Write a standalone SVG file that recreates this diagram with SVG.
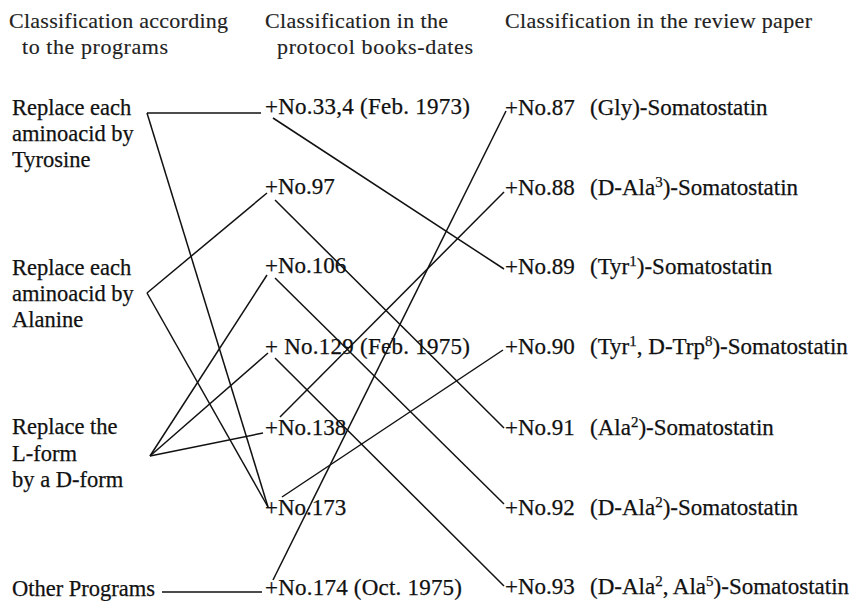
<svg xmlns="http://www.w3.org/2000/svg" width="853" height="601" viewBox="0 0 853 601">
<style>
text{font-family:"Liberation Serif","Times New Roman",serif;fill:#111;font-size:23px;stroke:#111;stroke-width:0.25}
.h{font-size:22px;fill:#222;stroke:#222;stroke-width:0.15}
.l{font-size:22.5px}
.sup{font-size:15px}
#connectors line{stroke:#111;stroke-width:1.5;fill:none}
</style>
<rect width="853" height="601" fill="#fff"/>
<g id="headers">
<text class="h" x="9" y="28" textLength="219">Classification according</text>
<text class="h" x="22" y="54" textLength="146">to the programs</text>
<text class="h" x="265" y="28" textLength="183">Classification in the</text>
<text class="h" x="277" y="54" textLength="196">protocol books-dates</text>
<text class="h" x="505" y="28" textLength="307">Classification in the review paper</text>
</g>
<g id="connectors">
<line x1="147" y1="113" x2="261" y2="113"/>
<line x1="147" y1="113" x2="268" y2="507"/>
<line x1="147" y1="293" x2="267" y2="193"/>
<line x1="147" y1="293" x2="268" y2="507"/>
<line x1="150" y1="456" x2="267" y2="275"/>
<line x1="150" y1="456" x2="268" y2="353"/>
<line x1="150" y1="456" x2="263" y2="433"/>
<line x1="162" y1="592" x2="262" y2="592"/>
<line x1="273" y1="118" x2="504" y2="269"/>
<line x1="275" y1="200" x2="504" y2="428"/>
<line x1="275" y1="278" x2="504" y2="504"/>
<line x1="275" y1="358" x2="504" y2="586"/>
<line x1="280" y1="417" x2="504" y2="192"/>
<line x1="282" y1="497" x2="503" y2="350"/>
<line x1="273" y1="580" x2="506" y2="111"/>
</g>
<g id="prog-tyrosine"><text class="l" x="12" y="115">Replace each</text><text class="l" x="12" y="141">aminoacid by</text><text class="l" x="12" y="167">Tyrosine</text></g>
<g id="prog-alanine"><text class="l" x="12" y="275">Replace each</text><text class="l" x="12" y="301">aminoacid by</text><text class="l" x="12" y="327">Alanine</text></g>
<g id="prog-dform"><text class="l" x="12" y="434">Replace the</text><text class="l" x="12" y="461">L-form</text><text class="l" x="12" y="487">by a D-form</text></g>
<g id="prog-other"><text class="l" x="12" y="596">Other Programs</text></g>
<g id="book-33"><text x="265" y="114" textLength="205">+No.33,4 (Feb. 1973)</text></g>
<g id="book-97"><text x="265" y="194">+No.97</text></g>
<g id="book-106"><text x="265" y="273">+No.106</text></g>
<g id="book-129"><text x="265" y="354" textLength="205">+ No.129 (Feb. 1975)</text></g>
<g id="book-138"><text x="265" y="435">+No.138</text></g>
<g id="book-173"><text x="265" y="515">+No.173</text></g>
<g id="book-174"><text x="265" y="595" textLength="197">+No.174 (Oct. 1975)</text></g>
<g id="rev-87"><text x="505" y="115">+No.87</text><text x="590" y="115">(Gly)-Somatostatin</text></g>
<g id="rev-88"><text x="505" y="195">+No.88</text><text x="590" y="195">(D-Ala<tspan class="sup" dy="-8">3</tspan><tspan dy="8">)-Somatostatin</tspan></text></g>
<g id="rev-89"><text x="505" y="274">+No.89</text><text x="590" y="274">(Tyr<tspan class="sup" dy="-8">1</tspan><tspan dy="8">)-Somatostatin</tspan></text></g>
<g id="rev-90"><text x="505" y="354">+No.90</text><text x="590" y="354">(Tyr<tspan class="sup" dy="-8">1</tspan><tspan dy="8">, D-Trp</tspan><tspan class="sup" dy="-8">8</tspan><tspan dy="8">)-Somatostatin</tspan></text></g>
<g id="rev-91"><text x="505" y="435">+No.91</text><text x="590" y="435">(Ala<tspan class="sup" dy="-8">2</tspan><tspan dy="8">)-Somatostatin</tspan></text></g>
<g id="rev-92"><text x="505" y="515">+No.92</text><text x="590" y="515">(D-Ala<tspan class="sup" dy="-8">2</tspan><tspan dy="8">)-Somatostatin</tspan></text></g>
<g id="rev-93"><text x="505" y="594">+No.93</text><text x="590" y="594">(D-Ala<tspan class="sup" dy="-8">2</tspan><tspan dy="8">, Ala</tspan><tspan class="sup" dy="-8">5</tspan><tspan dy="8">)-Somatostatin</tspan></text></g>
</svg>
